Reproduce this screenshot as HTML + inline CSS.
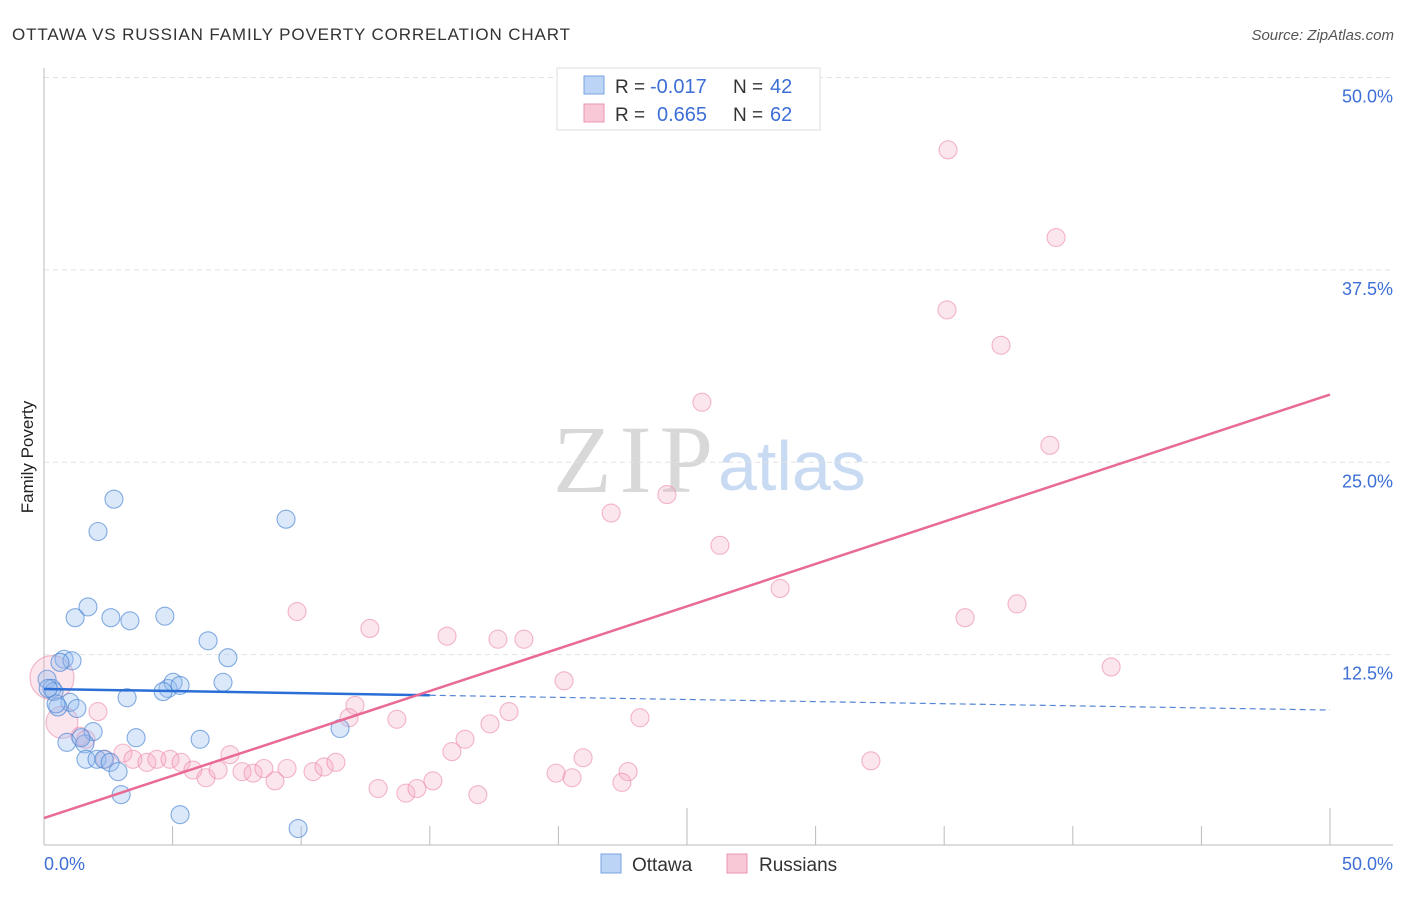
<!DOCTYPE html>
<html><head><meta charset="utf-8"><style>
body{margin:0;background:#fff;font-family:"Liberation Sans",sans-serif}
svg text{font-family:"Liberation Sans",sans-serif}
svg text.serif{font-family:"Liberation Serif",serif}
</style></head><body>
<svg id="c" width="1406" height="892">
<text x="12" y="40" font-size="17" fill="#333" textLength="558">OTTAWA VS RUSSIAN FAMILY POVERTY CORRELATION CHART</text>
<text x="1394" y="40" font-size="15" fill="#555" font-style="italic" text-anchor="end">Source: ZipAtlas.com</text>
<text x="33" y="457" font-size="17" fill="#222" text-anchor="middle" transform="rotate(-90 33 457)">Family Poverty</text>
<g><text class="serif" x="553" y="492" font-size="96" fill="#d8d8d8" textLength="160">ZIP</text><text x="718" y="490" font-size="70" fill="#c9dbf3">atlas</text></g>
<g id="grid"></g><g id="axes"></g><g id="marks"></g><g id="trends"></g>
<g>
<rect x="557" y="68" width="263" height="62" fill="#fff" stroke="#ddd"/>
<rect x="584" y="76" width="20" height="18" fill="#bcd4f5" stroke="#7aa3e0"/>
<rect x="584" y="104" width="20" height="18" fill="#f9c8d6" stroke="#eb94b0"/>
<text x="615" y="93" font-size="19" fill="#333">R =</text>
<text x="650" y="93" font-size="20" fill="#3d6fd6">-0.017</text>
<text x="733" y="93" font-size="19" fill="#333">N =</text>
<text x="770" y="93" font-size="20" fill="#3d6fd6">42</text>
<text x="615" y="121" font-size="19" fill="#333">R =</text>
<text x="657" y="121" font-size="20" fill="#3d6fd6">0.665</text>
<text x="733" y="121" font-size="19" fill="#333">N =</text>
<text x="770" y="121" font-size="20" fill="#3d6fd6">62</text>
</g>
<g>
<rect x="601" y="854" width="20" height="19" fill="#bcd4f5" stroke="#7aa3e0"/>
<text x="632" y="871" font-size="19" fill="#333">Ottawa</text>
<rect x="727" y="854" width="20" height="19" fill="#f9c8d6" stroke="#eb94b0"/>
<text x="759" y="871" font-size="19" fill="#333">Russians</text>
</g>
</svg>
<script>
const yTicks=[12.5,25,37.5,50];
const yTickLabels=["12.5%","25.0%","37.5%","50.0%"];
const xTickLabels=["0.0%","50.0%"];
const ottawaX=[2.72,2.10,9.41,1.71,1.21,2.60,3.34,4.70,6.38,7.15,0.78,1.09,0.62,0.12,0.31,0.39,4.82,5.02,5.29,4.63,6.96,3.23,1.01,0.54,1.28,1.91,3.58,0.89,1.59,1.44,6.07,11.51,1.63,2.06,2.33,2.57,2.88,3.0,5.29,9.88,0.16,0.47];
const ottawaY=[22.6,20.5,21.3,15.6,14.9,14.9,14.7,15.0,13.4,12.3,12.2,12.1,12.0,10.9,10.3,10.1,10.3,10.7,10.5,10.1,10.7,9.7,9.4,9.1,9.0,7.5,7.1,6.8,6.7,7.1,7.0,7.7,5.7,5.7,5.7,5.5,4.9,3.4,2.1,1.2,10.3,9.3];
const rusX=[35.15,39.35,35.11,37.21,25.58,39.11,24.22,22.05,26.28,28.62,37.83,35.81,9.84,12.67,15.67,17.65,18.66,41.49,20.22,12.09,13.72,11.86,18.08,17.34,16.37,15.86,23.17,20.96,32.15,22.71,19.91,20.53,22.47,2.10,1.40,3.07,3.46,4.0,4.39,4.90,5.33,5.79,6.30,6.77,7.23,7.70,8.13,8.55,8.98,9.45,10.46,10.89,11.35,12.99,14.07,14.50,15.12,16.87,0.31,0.70,2.37,1.63];
const rusY=[45.3,39.6,34.9,32.6,28.9,26.1,22.9,21.7,19.6,16.8,15.8,14.9,15.3,14.2,13.7,13.5,13.5,11.7,10.8,9.2,8.3,8.4,8.8,8.0,7.0,6.2,8.4,5.8,5.6,4.9,4.8,4.5,4.2,8.8,7.2,6.1,5.7,5.5,5.7,5.7,5.5,5.0,4.5,5.0,6.0,4.9,4.8,5.1,4.3,5.1,4.9,5.2,5.5,3.8,3.5,3.8,4.3,3.4,11.0,8.1,5.7,7.0];
const rusR=[9,9,9,9,9,9,9,9,9,9,9,9,9,9,9,9,9,9,9,9,9,9,9,9,9,9,9,9,9,9,9,9,9,9,9,9,9,9,9,9,9,9,9,9,9,9,9,9,9,9,9,9,9,9,9,9,9,9,22,16,9,9];
const ottawaTrend=[10.27,8.90];
const rusTrend=[1.88,29.4];
const NS="http://www.w3.org/2000/svg";
const X=v=>44+v*25.72, Y=v=>847-v*15.39;
function mk(p,t,a){const e=document.createElementNS(NS,t);for(const k in a)e.setAttribute(k,a[k]);document.getElementById(p).appendChild(e);return e;}
yTicks.forEach((t,i)=>{
 const l=mk('grid','line',{x1:44,x2:1393,y1:Y(t),y2:Y(t),stroke:'#e2e2e2','stroke-dasharray':'5,4'});
 
 
 const tx=mk('grid','text',{x:1393,y:Y(t)+25,'font-size':18,fill:'#3d6fd6','text-anchor':'end'});
 tx.textContent=yTickLabels[i];
 
 
});
const ax=mk('axes','line',{x1:44,x2:44,y1:68,y2:845,stroke:'#bbb'});


const bx=mk('axes','line',{x1:44,x2:1393,y1:845,y2:845,stroke:'#bbb'});


for(let i=1;i<=10;i++){const xv=i*5;const tk=mk('axes','line',{x1:X(xv),x2:X(xv),y1:(i==5||i==10)?808:826,y2:845,stroke:'#bbb'});
 
 }
[[0,'start',44],[1,'end',1393]].forEach(([i,a,x])=>{const t=mk('axes','text',{x:x,y:870,'font-size':18,fill:'#3d6fd6','text-anchor':a});t.textContent=xTickLabels[i];
 
 });
rusX.forEach((v,i)=>{const c=mk('marks','circle',{cx:X(v),cy:Y(rusY[i]),r:rusR[i],fill:'rgba(245,165,195,0.28)',stroke:'rgba(235,135,168,0.6)','stroke-width':1.1});
 
 });
ottawaX.forEach((v,i)=>{const c=mk('marks','circle',{cx:X(v),cy:Y(ottawaY[i]),r:9,fill:'rgba(150,190,240,0.35)',stroke:'rgba(70,130,210,0.65)','stroke-width':1.1});
 
 });
const oy=x=>ottawaTrend[0]+(ottawaTrend[1]-ottawaTrend[0])*x/50;
const t1=mk('trends','line',{x1:X(0),y1:Y(oy(0)),x2:X(15),y2:Y(oy(15)),stroke:'#2b6fd6','stroke-width':2.5});


const t2=mk('trends','line',{x1:X(15),y1:Y(oy(15)),x2:X(50),y2:Y(oy(50)),stroke:'#5585d6','stroke-width':1.2,'stroke-dasharray':'6,4'});


const t3=mk('trends','line',{x1:X(0),y1:Y(rusTrend[0]),x2:X(50),y2:Y(rusTrend[1]),stroke:'#e86a95','stroke-width':2.5});


</script>
</body></html>
